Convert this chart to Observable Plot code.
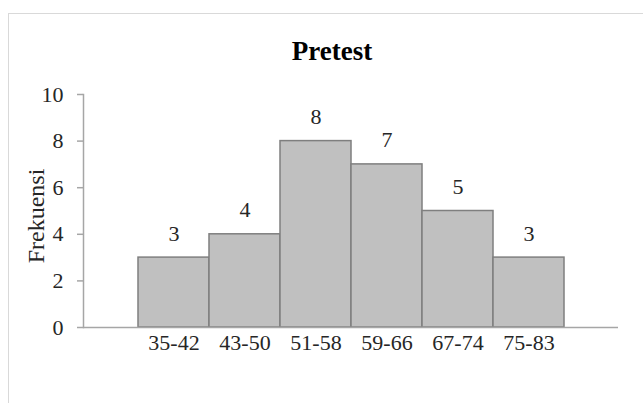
<!DOCTYPE html>
<html><head><meta charset="utf-8">
<script src="https://cdn.jsdelivr.net/npm/d3@7"></script>
<script src="https://cdn.jsdelivr.net/npm/@observablehq/plot@0.6"></script>
<style>
body{margin:0;background:#fff;}
#wrap{position:relative;width:643px;height:403px;overflow:hidden;}
#border{position:absolute;left:8px;top:13px;width:700px;height:500px;border:1.5px solid #d9d9d9;box-sizing:border-box;}
#chart{position:absolute;left:0;top:0;}
</style></head><body><div id="wrap"><div id="border"></div><div id="chart"></div></div>
<script>
const categories = ["35-42","43-50","51-58","59-66","67-74","75-83"];
const frequencies = [3,4,8,7,5,3];
const yTicks = [0,2,4,6,8,10];
const title = "Pretest";
const yLabel = "Frekuensi";
const data = categories.map((c,i)=>({kelas:c, frekuensi:frequencies[i]}));
const font = "'Liberation Serif', 'Times New Roman', serif";
const chart = Plot.plot({
  width:643, height:403, marginLeft:83, marginRight:25, marginTop:94, marginBottom:76,
  style:{fontFamily:font, fontSize:"22px", background:"transparent", color:"#262626", overflow:"visible"},
  x:{domain:categories, paddingInner:0, paddingOuter:0.75},
  y:{domain:[0,10]},
  marks:[
    Plot.barY(data,{x:"kelas", y:"frekuensi", fill:"#c0c0c0", stroke:"#7f7f7f", strokeWidth:1.5}),
    Plot.ruleY([0],{stroke:"#a6a6a6", strokeWidth:1.5}),
    Plot.frame({anchor:"left", stroke:"#a6a6a6", strokeWidth:1.5}),
    Plot.axisY({ticks:yTicks, tickSize:6, tickPadding:14, stroke:"#a6a6a6", strokeWidth:1.5, label:null, fontSize:22}),
    Plot.axisX({tickSize:0, tickPadding:7, label:null, fontSize:22, style:"letter-spacing:1.1px"}),
    Plot.text(data,{x:"kelas", y:"frekuensi", text:d=>String(d.frekuensi), lineAnchor:"bottom", dy:-17, fontSize:22}),
    Plot.text([title],{frameAnchor:"top", text:d=>d, dx:-19, dy:-35, lineAnchor:"bottom", fontSize:27, fontWeight:"bold", fill:"#000"}),
    Plot.text([yLabel],{frameAnchor:"left", text:d=>d, rotate:-90, textAnchor:"middle", lineAnchor:"middle", dx:-47, dy:5, fontSize:24})
  ]
});
document.getElementById("chart").appendChild(chart);
</script></body></html>
